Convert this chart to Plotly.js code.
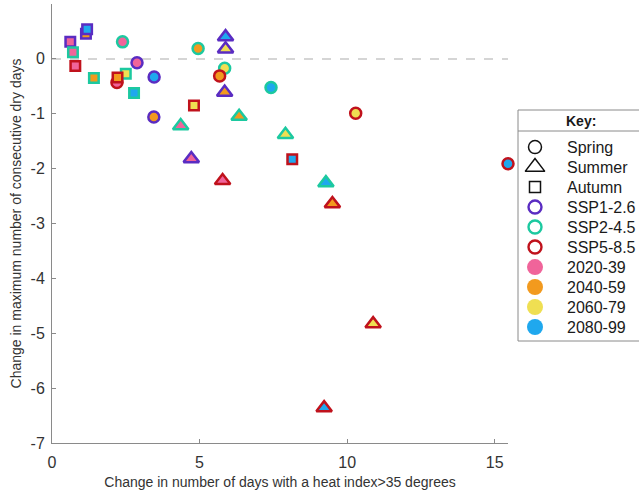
<!DOCTYPE html>
<html>
<head>
<meta charset="utf-8">
<script src="https://cdn.plot.ly/plotly-3.0.1.min.js"></script>
<style>html,body{margin:0;padding:0;background:#fff;}#chart{width:639px;height:493px;}</style>
</head>
<body>
<div id="chart"></div>
<script>
// Data (season, scenario, period, x, y) in drawing order
const seasons = [
  "Autumn","Autumn","Autumn","Autumn","Autumn","Autumn","Autumn","Spring","Autumn","Autumn","Autumn","Autumn",
  "Spring","Spring","Spring","Spring","Spring","Spring","Spring","Spring","Spring","Spring",
  "Summer","Summer","Summer","Summer","Summer","Summer","Summer","Summer","Summer","Summer","Summer","Summer"
];
const scenarios = [
  "SSP1-2.6","SSP1-2.6","SSP1-2.6","SSP2-4.5","SSP5-8.5","SSP2-4.5","SSP2-4.5","SSP5-8.5","SSP5-8.5","SSP2-4.5","SSP5-8.5","SSP5-8.5",
  "SSP2-4.5","SSP1-2.6","SSP1-2.6","SSP1-2.6","SSP2-4.5","SSP2-4.5","SSP5-8.5","SSP2-4.5","SSP5-8.5","SSP5-8.5",
  "SSP1-2.6","SSP1-2.6","SSP1-2.6","SSP2-4.5","SSP2-4.5","SSP1-2.6","SSP5-8.5","SSP2-4.5","SSP2-4.5","SSP5-8.5","SSP5-8.5","SSP5-8.5"
];
const periods = [
  "2040-59","2080-99","2020-39","2020-39","2020-39","2040-59","2060-79","2020-39","2040-59","2080-99","2060-79","2080-99",
  "2020-39","2020-39","2080-99","2040-59","2040-59","2060-79","2040-59","2080-99","2060-79","2080-99",
  "2060-79","2080-99","2040-59","2040-59","2020-39","2020-39","2020-39","2060-79","2080-99","2040-59","2060-79","2080-99"
];
const xVals = [
  1.15, 1.19, 0.62, 0.71, 0.79, 1.42, 2.50, 2.20, 2.22, 2.78, 4.81, 8.14,
  2.39, 2.88, 3.46, 3.45, 4.95, 5.85, 5.68, 7.42, 10.29, 15.45,
  5.88, 5.88, 5.85, 6.34, 4.36, 4.72, 5.78, 7.91, 9.28, 9.50, 10.88, 9.22
];
const yVals = [
  0.46, 0.54, 0.31, 0.12, -0.13, -0.35, -0.27, -0.43, -0.34, -0.62, -0.85, -1.83,
  0.31, -0.07, -0.33, -1.06, 0.19, -0.17, -0.31, -0.52, -0.99, -1.91,
  0.18, 0.40, -0.61, -1.05, -1.22, -1.82, -2.22, -1.38, -2.26, -2.64, -4.83, -6.36
];
const seasonNames = ["Spring","Summer","Autumn"];
const scenarioNames = ["SSP1-2.6","SSP2-4.5","SSP5-8.5"];
const periodNames = ["2020-39","2040-59","2060-79","2080-99"];
const keyLabels = seasonNames.concat(scenarioNames, periodNames);
const xTicks = [0, 5, 10, 15];
const yTicks = [-7, -6, -5, -4, -3, -2, -1, 0, 1];

// Styles
const symbolOf = {"Spring":"circle","Summer":"triangle-up","Autumn":"square"};
const sizeOf = {"Spring":11,"Summer":13.5,"Autumn":9.5};
const edgeOf = {"SSP1-2.6":"#5a2cc2","SSP2-4.5":"#1cc9a0","SSP5-8.5":"#c0121c"};
const fillOf = {"2020-39":"#f0649a","2040-59":"#f29a1e","2060-79":"#efdf52","2080-99":"#1fa8ee"};
const FONT = "Liberation Sans, Arial, Helvetica, sans-serif";

function keyStyle(lbl) {
  if (symbolOf[lbl]) return { sym: symbolOf[lbl] + "-open", size: lbl === "Summer" ? 17 : (lbl === "Autumn" ? 11 : 13), col: "#111", lw: 1.5 };
  if (edgeOf[lbl]) return { sym: "circle-open", size: 13, col: edgeOf[lbl], lw: 2.4 };
  return { sym: "circle", size: 16, col: fillOf[lbl], lw: 0 };
}
const ks = keyLabels.map(keyStyle);

const traces = [{
  type: "scatter", mode: "markers", x: xVals, y: yVals, showlegend: false, hoverinfo: "x+y",
  cliponaxis: false,
  marker: {
    symbol: seasons.map(s => symbolOf[s]),
    size: seasons.map(s => sizeOf[s]),
    opacity: 1,
    color: periods.map(p => fillOf[p]),
    line: { color: scenarios.map(s => edgeOf[s]), width: 2.5 }
  }
}, {
  // Key (legend) markers, placed by category on a helper axis
  type: "scatter", mode: "markers", xaxis: "x2", yaxis: "y2", showlegend: false, cliponaxis: false,
  x: keyLabels.map(() => 0), y: keyLabels,
  marker: {
    symbol: ks.map(k => k.sym), size: ks.map(k => k.size), opacity: 1,
    color: ks.map(k => k.col),
    line: { color: ks.map(k => k.col), width: ks.map(k => k.lw) }
  }
}];

const axisCommon = {
  showline: true, linecolor: "#8a8a8a", linewidth: 1, ticks: "inside", ticklen: 4,
  tickcolor: "#8a8a8a", showgrid: false, zeroline: false,
  tickfont: { family: FONT, size: 16, color: "#333" }
};
const P = v => (v - 52) / 587;          // px -> paper x
const Q = v => (443 - v) / 439;         // px -> paper y
const layout = {
  width: 639, height: 493,
  margin: { l: 52, r: 0, t: 4, b: 50 },
  paper_bgcolor: "#fff", plot_bgcolor: "#fff",
  font: { family: FONT, color: "#333" },
  showlegend: false,
  xaxis: Object.assign({}, axisCommon, {
    domain: [0, P(508)],
    range: [0, 15.45], tickvals: xTicks, ticktext: xTicks.map(String), ticklabelstandoff: 5,
    title: { text: "Change in number of days with a heat index>35 degrees", font: { family: FONT, size: 14, color: "#333" }, standoff: 6 }
  }),
  yaxis: Object.assign({}, axisCommon, {
    range: [-7, 1], tickvals: yTicks, ticktext: yTicks.map(String), ticklabelstandoff: 3,
    title: { text: "Change in maximum number of consecutive dry days", font: { family: FONT, size: 14, color: "#333" }, standoff: 5 }
  }),
  xaxis2: {
    domain: [P(521), P(549)], range: [-1, 1], anchor: "y2",
    visible: false, showgrid: false, zeroline: false, fixedrange: true
  },
  yaxis2: {
    domain: [Q(337), Q(137.1)], anchor: "x2", type: "category", categoryarray: keyLabels,
    categoryorder: "array", range: [keyLabels.length - 0.5, -0.5],
    side: "right", showline: false, showgrid: false, zeroline: false, ticks: "",
    ticklabelstandoff: 17, tickfont: { family: FONT, size: 16, color: "#1a1a1a" }, fixedrange: true
  },
  shapes: [
    { type: "line", xref: "x domain", yref: "y", x0: 0, x1: 1, y0: 0, y1: 0, layer: "below",
      line: { color: "#c8c8c8", width: 1.5, dash: "dash" } },
    { type: "rect", xref: "paper", yref: "paper", x0: P(518), x1: P(648), y0: Q(341), y1: Q(110),
      line: { color: "#8a8a8a", width: 1 }, fillcolor: "rgba(0,0,0,0)", layer: "below" },
    { type: "line", xref: "paper", yref: "paper", x0: P(518), x1: P(648), y0: Q(131), y1: Q(131),
      line: { color: "#8a8a8a", width: 1 } }
  ],
  annotations: [
    { text: "<b>Key:</b>", xref: "paper", yref: "paper", x: P(581), y: Q(121), xanchor: "center", yanchor: "middle",
      showarrow: false, font: { family: FONT, size: 14, color: "#1a1a1a" } }
  ]
};
Plotly.newPlot("chart", traces, layout, { displayModeBar: false, staticPlot: true });
</script>
</body>
</html>
